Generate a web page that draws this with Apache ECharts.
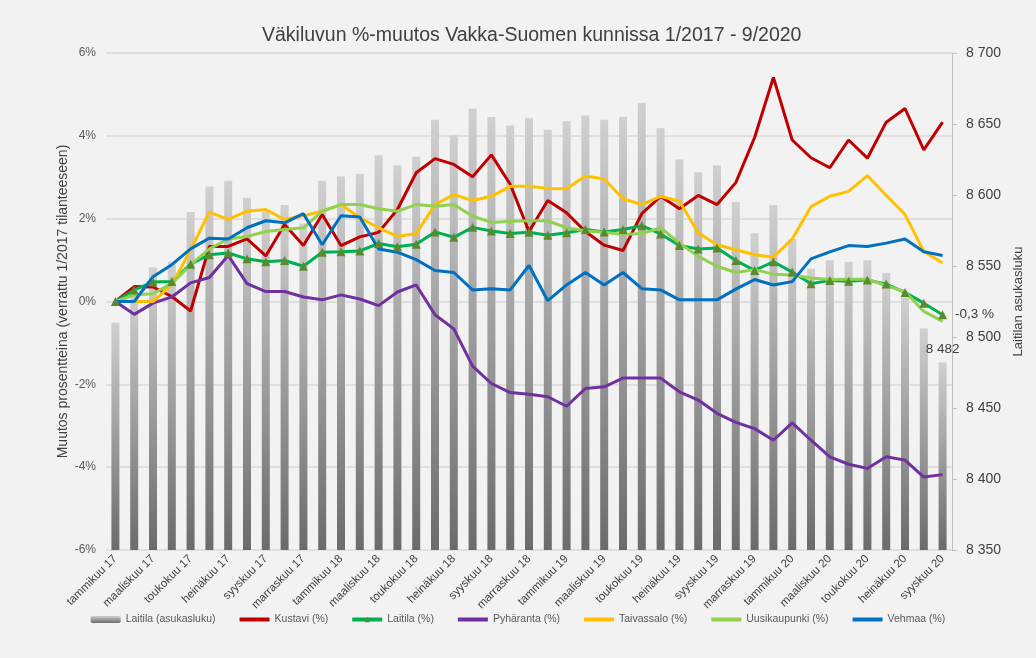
<!DOCTYPE html>
<html lang="fi">
<head>
    <meta charset="UTF-8">
    <title>Väkiluvun %-muutos Vakka-Suomen kunnissa</title>
    <script src="https://cdn.jsdelivr.net/npm/echarts@6/dist/echarts.min.js"></script>
    <style>
        html, body { margin: 0; padding: 0; background: #f2f2f2; }
        #main { width: 1036px; height: 658px; }
    </style>
</head>
<body>
<div id="main"></div>
<script type="text/javascript">
    // kuukaudet ja vuodet x-akselille
    var months = ['tammikuu', 'helmikuu', 'maaliskuu', 'huhtikuu', 'toukokuu', 'kesäkuu',
        'heinäkuu', 'elokuu', 'syyskuu', 'lokakuu', 'marraskuu', 'joulukuu'];
    var years = ['17', '18', '19', '20'];
    var categories = [];
    for (var y = 0; y < years.length; y++) {
        for (var m = 0; m < months.length; m++) {
            if (years[y] === '20' && m > 8) break;
            categories.push(months[m] + ' ' + years[y]);
        }
    }

    // Laitilan asukasluku (pylväät, oikea akseli)
    var laitilaPop = [8510, 8532, 8549, 8553, 8588, 8606, 8610, 8598, 8588, 8593, 8580, 8610,
        8613, 8615, 8628, 8621, 8627, 8653, 8642, 8661, 8655, 8649, 8654, 8646,
        8652, 8656, 8653, 8655, 8665, 8647, 8625, 8616, 8621, 8595, 8573, 8593,
        8569, 8548, 8554, 8553, 8554, 8545, 8528, 8506, 8482];

    // %-muutokset (vasen akseli)
    var kustavi = [0, 0.36, 0.35, 0.12, -0.23, 1.33, 1.33, 1.51, 1.1, 1.86, 1.35, 2.1,
        1.35, 1.56, 1.67, 2.22, 3.11, 3.45, 3.31, 3.01, 3.54, 2.83, 1.69, 2.44,
        2.14, 1.69, 1.36, 1.23, 2.12, 2.54, 2.24, 2.56, 2.34, 2.87, 3.96, 5.41,
        3.9, 3.47, 3.23, 3.9, 3.46, 4.33, 4.66, 3.66, 4.33];
    var laitila = [0, 0.28, 0.47, 0.48, 0.9, 1.13, 1.17, 1.03, 0.96, 0.99, 0.85, 1.19,
        1.2, 1.22, 1.4, 1.32, 1.38, 1.68, 1.55, 1.79, 1.7, 1.64, 1.67, 1.6,
        1.66, 1.74, 1.68, 1.74, 1.83, 1.63, 1.35, 1.27, 1.29, 0.99, 0.75, 0.96,
        0.71, 0.43, 0.51, 0.49, 0.52, 0.42, 0.22, -0.04, -0.32];
    var pyharanta = [0, -0.31, -0.04, 0.11, 0.45, 0.58, 1.11, 0.43, 0.24, 0.24, 0.11, 0.04,
        0.16, 0.06, -0.1, 0.23, 0.4, -0.32, -0.66, -1.56, -1.98, -2.2, -2.24, -2.3,
        -2.53, -2.1, -2.06, -1.85, -1.85, -1.85, -2.18, -2.38, -2.7, -2.92, -3.07, -3.35,
        -2.93, -3.35, -3.75, -3.93, -4.03, -3.75, -3.83, -4.24, -4.18];
    var taivassalo = [0, 0, 0, 0.4, 1.25, 2.16, 1.98, 2.18, 2.22, 1.98, 2.07, 2.18,
        2.34, 2.02, 1.78, 1.57, 1.64, 2.34, 2.58, 2.44, 2.54, 2.78, 2.78, 2.73,
        2.72, 3.03, 2.96, 2.48, 2.34, 2.54, 2.42, 1.66, 1.37, 1.25, 1.13, 1.07,
        1.51, 2.29, 2.54, 2.66, 3.04, 2.56, 2.1, 1.21, 0.93];
    var uusikaupunki = [0, 0.16, 0.19, 0.43, 0.89, 1.27, 1.51, 1.57, 1.69, 1.74, 1.78, 2.18,
        2.34, 2.34, 2.24, 2.18, 2.34, 2.3, 2.34, 2.06, 1.91, 1.94, 1.95, 1.95,
        1.78, 1.7, 1.67, 1.62, 1.64, 1.78, 1.41, 1.09, 0.85, 0.7, 0.77, 0.66,
        0.64, 0.57, 0.53, 0.54, 0.54, 0.38, 0.24, -0.24, -0.48];
    var vehmaa = [0, 0, 0.6, 0.89, 1.27, 1.53, 1.51, 1.78, 1.95, 1.9, 2.12, 1.37,
        2.07, 2.04, 1.27, 1.19, 1.01, 0.75, 0.7, 0.28, 0.31, 0.28, 0.87, 0.02,
        0.4, 0.7, 0.4, 0.7, 0.31, 0.28, 0.04, 0.04, 0.04, 0.3, 0.53, 0.4,
        0.48, 1.03, 1.2, 1.35, 1.33, 1.41, 1.51, 1.2, 1.11];

    var font = '"Liberation Sans", Arial, sans-serif';
    var last = categories.length - 1;

    function spaced(v) {
        return String(v).replace(/\B(?=(\d{3})+(?!\d))/g, ' ');
    }

    // viivasarja
    function lineSeries(name, data, color, extra) {
        var s = {
            name: name,
            type: 'line',
            yAxisIndex: 0,
            data: data,
            symbol: 'none',
            lineStyle: { color: color, width: 3 },
            itemStyle: { color: color },
            z: 3
        };
        for (var k in extra) s[k] = extra[k];
        return s;
    }

    // selitteen rivit: tavallisille viivoille ei symbolia, paksumpi viiva
    function plainItem(name) {
        return { name: name, itemStyle: { opacity: 0 }, lineStyle: { width: 4 } };
    }

    var myChart = echarts.init(document.getElementById('main'));

    var option = {
        backgroundColor: '#f2f2f2',
        textStyle: { fontFamily: font },
        title: {
            text: 'Väkiluvun %-muutos Vakka-Suomen kunnissa 1/2017 - 9/2020',
            left: 257,
            top: 21,
            textStyle: { fontSize: 19.5, fontWeight: 'normal', color: '#404040', fontFamily: font }
        },
        legend: {
            top: 609,
            left: 'center',
            itemWidth: 30,
            itemHeight: 7,
            itemGap: 22,
            textStyle: { fontSize: 10.5, color: '#595959' },
            data: ['Laitila (asukasluku)', plainItem('Kustavi (%)'),
                { name: 'Laitila (%)', lineStyle: { width: 4 } },
                plainItem('Pyhäranta (%)'), plainItem('Taivassalo (%)'),
                plainItem('Uusikaupunki (%)'), plainItem('Vehmaa (%)')]
        },
        grid: { left: 106, right: 84, top: 53, bottom: 108 },
        xAxis: {
            type: 'category',
            data: categories,
            axisLine: { show: false },
            axisTick: { show: false },
            axisLabel: { interval: 1, rotate: 45, margin: 7, fontSize: 11.5, color: '#404040' }
        },
        yAxis: [
            {
                type: 'value',
                min: -6, max: 6, interval: 2,
                name: 'Muutos prosentteina (verrattu 1/2017 tilanteeseen)',
                nameLocation: 'middle',
                nameGap: 36,
                nameRotate: 90,
                nameMoveOverlap: false,
                nameTextStyle: { fontSize: 14, color: '#404040' },
                axisLabel: { formatter: '{value}%', fontSize: 12, color: '#595959', margin: 10 },
                axisLine: { show: false },
                axisTick: { show: false },
                splitLine: { lineStyle: { color: '#d9d9d9', width: 1.5 } }
            },
            {
                type: 'value',
                position: 'right',
                min: 8350, max: 8700, interval: 50,
                name: 'Laitilan asukasluku',
                nameLocation: 'middle',
                nameGap: 60,
                nameRotate: 90,
                nameTextStyle: { fontSize: 13, color: '#404040' },
                axisLabel: { formatter: spaced, fontSize: 14, color: '#404040', margin: 14 },
                axisLine: { show: true, lineStyle: { color: '#bfbfbf' } },
                axisTick: { show: true, length: 5, lineStyle: { color: '#bfbfbf' } },
                splitLine: { show: false }
            }
        ],
        series: [
            {
                name: 'Laitila (asukasluku)',
                type: 'bar',
                yAxisIndex: 1,
                data: laitilaPop.map(function (v, i) {
                    if (i !== last) return v;
                    return {
                        value: v,
                        label: { show: true, position: 'top', distance: 6, formatter: spaced(v),
                            fontSize: 13.5, color: '#404040' }
                    };
                }),
                barWidth: 8,
                itemStyle: {
                    color: new echarts.graphic.LinearGradient(0, 0, 0, 1, [
                        { offset: 0, color: '#d0d0d0' },
                        { offset: 1, color: '#6b6b6b' }
                    ])
                },
                z: 1
            },
            lineSeries('Kustavi (%)', kustavi, '#c00000'),
            lineSeries('Laitila (%)', laitila.map(function (v, i) {
                if (i !== last) return v;
                return {
                    value: v,
                    label: { show: true, position: 'right', distance: 8,
                        formatter: String(v.toFixed(1)).replace('.', ',') + ' %',
                        fontSize: 13.5, color: '#404040' }
                };
            }), '#00b050', {
                symbol: 'triangle',
                symbolSize: 9,
                showSymbol: true,
                itemStyle: { color: '#5b8a2e' }
            }),
            lineSeries('Pyhäranta (%)', pyharanta, '#7030a0'),
            lineSeries('Taivassalo (%)', taivassalo, '#ffc000'),
            lineSeries('Uusikaupunki (%)', uusikaupunki, '#92d050'),
            lineSeries('Vehmaa (%)', vehmaa, '#0070c0')
        ]
    };

    myChart.setOption(option);
</script>
</body>
</html>
